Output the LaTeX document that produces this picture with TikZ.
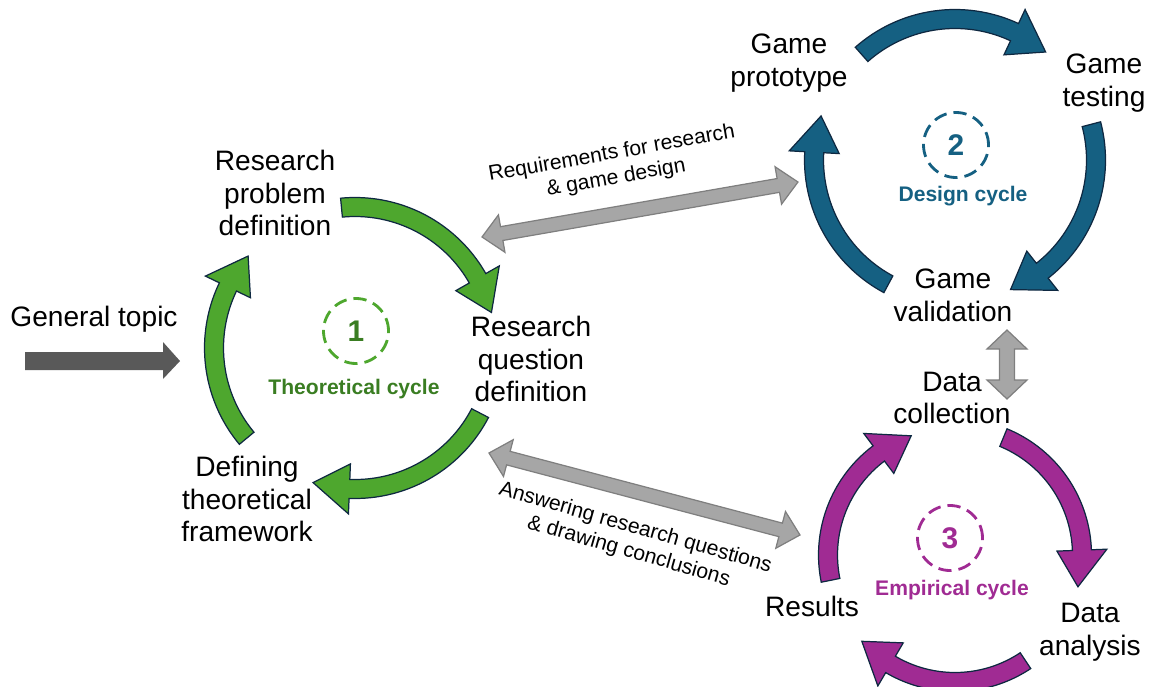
\documentclass[tikz,border=0pt]{standalone}
\usepackage{fontspec}
\setmainfont{Liberation Sans}
\usetikzlibrary{calc}

\definecolor{cgreen}{HTML}{4EA72E}
\definecolor{cgreendark}{HTML}{3A7D22}
\definecolor{cblue}{HTML}{156082}
\definecolor{cpurple}{HTML}{A02B93}
\definecolor{cnavy}{HTML}{0E2841}
\definecolor{cgrayfill}{HTML}{A6A6A6}
\definecolor{cgrayline}{HTML}{7F7F7F}
\definecolor{cdark}{HTML}{595959}

% band half-width, head half-width and head length of the curved arrows
\newcommand\arrowbw{9.5}
\newcommand\arrowhw{25}
\newcommand\arrowhl{37}

% curved block arrow on a circle: centre x, centre y, radius, start angle, tip angle, fill
\newcommand\cyclearrow[6]{%
  \pgfmathsetmacro\cab{#5-\arrowhl/(#3)*180/pi}%
  \begin{scope}[shift={(#1,#2)}]
    \filldraw[cycleband, fill=#6]
      (#4:{#3+\arrowbw})
      -- plot[domain=#4:\cab, samples=40, variable=\t] (\t:{#3+\arrowbw})
      -- (\cab:{#3+\arrowhw}) -- (#5:#3) -- (\cab:{#3-\arrowhw})
      -- (\cab:{#3-\arrowbw})
      -- plot[domain=\cab:#4, samples=40, variable=\t] (\t:{#3-\arrowbw})
      -- cycle;
  \end{scope}}

% straight double-headed block arrow: x1, y1, x2, y2, body half-width, head half-width, head length
\newcommand\dblarrow[7]{%
  \pgfmathsetmacro\dlen{veclen(#3-#1,#4-#2)}%
  \pgfmathsetmacro\dang{atan2(#4-#2,#3-#1)}%
  \begin{scope}[shift={(#1,#2)}, rotate={-\dang}]
    \filldraw[grayblock]
      (0,0) -- (#7,#6) -- (#7,#5) -- ({\dlen-#7},#5) -- ({\dlen-#7},#6)
      -- (\dlen,0) -- ({\dlen-#7},-#6) -- ({\dlen-#7},-#5) -- (#7,-#5)
      -- (#7,-#6) -- cycle;
  \end{scope}}

\tikzset{
  cycleband/.style={draw=cnavy, line width=0.7pt, line join=miter},
  grayblock/.style={fill=cgrayfill, draw=cgrayline, line width=0.7pt},
  steptext/.style={font=\fontsize{16}{18.7}\selectfont, align=center, inner sep=0pt},
  linklabel/.style={font=\fontsize{12}{14}\selectfont, align=center, inner sep=0pt},
  cyclename/.style={font=\fontsize{12}{14}\selectfont\bfseries, inner sep=0pt},
  numring/.style={circle, minimum size=37pt, inner sep=0pt, line width=1.6pt,
    dash pattern=on 7.5pt off 4pt, font=\fontsize{17}{20}\selectfont\bfseries}
}

\begin{document}
\begin{tikzpicture}[x=0.02cm, y=-0.02cm]
  \useasboundingbox (0,0) rectangle (1152,686);
  \clip (0,0) rectangle (1152,686);

  % entry arrow
  \fill[cdark] (25,352) -- (163,352) -- (163,342) -- (180,361) -- (163,379)
    -- (163,370) -- (25,370) -- cycle;
  \node[steptext] (topic) at (94,319) {General topic};

  % theoretical cycle
  \cyclearrow{355}{348}{141}{-95.5}{-14.6}{cgreen}
  \cyclearrow{355}{348}{141}{27.5}{107.3}{cgreen}
  \cyclearrow{355}{348}{141}{140.2}{220.7}{cgreen}
  \node[steptext] (rpd) at (275,193) {Research\\problem\\definition};
  \node[steptext] (rqd) at (531,359) {Research\\question\\definition};
  \node[steptext] (dtf) at (247,499) {Defining\\theoretical\\framework};
  \node[numring, draw=cgreen, text=cgreendark] (n1) at (356,331) {1};
  \node[cyclename, text=cgreendark] (tc) at (354,389) {Theoretical cycle};

  % design cycle
  \cyclearrow{955}{160}{141}{-131.5}{-50}{cblue}
  \cyclearrow{955}{160}{141}{-14.7}{66.8}{cblue}
  \cyclearrow{955}{160}{141}{118.2}{198.2}{cblue}
  \node[steptext] (gp) at (789,63) {Game\\prototype};
  \node[steptext] (gte) at (1104,83) {Game\\testing};
  \node[steptext] (gv) at (953,295) {Game\\validation};
  \node[numring, draw=cblue, text=cblue] (n2) at (956,145) {2};
  \node[cyclename, text=cblue] (dcy) at (963,196) {Design cycle};

  % empirical cycle
  \cyclearrow{955}{555}{127}{168.5}{249.8}{cpurple}
  \cyclearrow{955}{555}{127}{-67.6}{14.5}{cpurple}
  \cyclearrow{955}{555}{127}{56.3}{137.2}{cpurple}
  \node[steptext] (dc) at (952,398) {Data\\collection};
  \node[steptext] (res) at (812,606) {Results};
  \node[steptext] (da) at (1090,632) {Data\\analysis};
  \node[numring, draw=cpurple, text=cpurple] (n3) at (950,538) {3};
  \node[cyclename, text=cpurple] (ec) at (952,590) {Empirical cycle};

  % links between the cycles
  \dblarrow{482}{237}{798}{182}{7}{19}{20}
  \dblarrow{489}{453}{800}{535}{7}{19}{20}
  \dblarrow{1007}{330}{1007}{399}{7.5}{20}{19}
  \node[linklabel, rotate=10] (req) at (614,166) {Requirements for research\\\& game design};
  \node[linklabel, rotate=-16] (ans) at (632,540) {Answering research questions\\\& drawing conclusions};
\end{tikzpicture}
\end{document}
